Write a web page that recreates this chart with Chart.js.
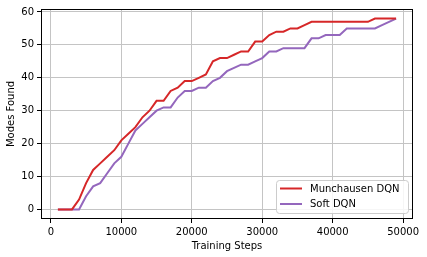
<!DOCTYPE html>
<html>
<head>
<meta charset="utf-8">
<script src="https://cdn.jsdelivr.net/npm/chart.js@4.4.0/dist/chart.umd.min.js"></script>
<style>
  html, body { margin: 0; padding: 0; background: #fff; }
  #wrap { width: 427px; height: 257px; }
</style>
</head>
<body>
<div id="wrap"><canvas id="modes_chart" width="427" height="257"></canvas></div>
<script>
// training steps (x)
var steps = [1000, 2000, 3000, 4000, 5000, 6000, 7000, 8000, 9000, 10000,
    11000, 12000, 13000, 14000, 15000, 16000, 17000, 18000, 19000, 20000,
    21000, 22000, 23000, 24000, 25000, 26000, 27000, 28000, 29000, 30000,
    31000, 32000, 33000, 34000, 35000, 36000, 37000, 38000, 39000, 40000,
    41000, 42000, 43000, 44000, 45000, 46000, 47000, 48000, 49000];
// modes found
var munchausen = [0, 0, 0, 3, 8, 12, 14, 16, 18, 21,
    23, 25, 28, 30, 33, 33, 36, 37, 39, 39,
    40, 41, 45, 46, 46, 47, 48, 48, 51, 51,
    53, 54, 54, 55, 55, 56, 57, 57, 57, 57,
    57, 57, 57, 57, 57, 58, 58, 58, 58];
var softDqn = [0, 0, 0, 0, 4, 7, 8, 11, 14, 16,
    20, 24, 26, 28, 30, 31, 31, 34, 36, 36,
    37, 37, 39, 40, 42, 43, 44, 44, 45, 46,
    48, 48, 49, 49, 49, 49, 52, 52, 53, 53,
    53, 55, 55, 55, 55, 55, 56, 57, 58];
var seriesNames = ["Munchausen DQN", "Soft DQN"];
var xTicks = [0, 10000, 20000, 30000, 40000, 50000];
var yTicks = [0, 10, 20, 30, 40, 50, 60];

var redLine = "#d62728";
var purpleLine = "#9467bd";
var gridColor = "#c4c4c4";

function toPoints(ys) {
    return steps.map(function (s, i) { return {x: s, y: ys[i]}; });
}

// box round the axes + legend in lower right, like matplotlib
var framePlugin = {
    id: "frame",
    afterDatasetsDraw: function (chart) {
        var ctx = chart.ctx, a = chart.chartArea;
        ctx.save();
        ctx.strokeStyle = "#000";
        ctx.lineWidth = 1;
        ctx.strokeRect(a.left + 0.5, a.top + 0.5, a.right - a.left - 1, a.bottom - a.top - 1);

        // legend
        var bx = 276.5, by = 180.5, bw = 132, bh = 33, r = 3;
        ctx.fillStyle = "rgba(255,255,255,0.85)";
        ctx.strokeStyle = "#cccccc";
        ctx.beginPath();
        ctx.moveTo(bx + r, by);
        ctx.arcTo(bx + bw, by, bx + bw, by + bh, r);
        ctx.arcTo(bx + bw, by + bh, bx, by + bh, r);
        ctx.arcTo(bx, by + bh, bx, by, r);
        ctx.arcTo(bx, by, bx + bw, by, r);
        ctx.closePath();
        ctx.fill();
        ctx.stroke();
        ctx.font = "10px 'DejaVu Sans'";
        ctx.textBaseline = "middle";
        chart.data.datasets.forEach(function (ds, i) {
            var yy = 188.5 + i * 15.5;
            ctx.strokeStyle = ds.borderColor;
            ctx.lineWidth = 2;
            ctx.beginPath();
            ctx.moveTo(280, yy);
            ctx.lineTo(302, yy);
            ctx.stroke();
            ctx.fillStyle = "#000";
            ctx.fillText(ds.label, 310, yy + 0.5);
        });
        ctx.restore();
    }
};

Chart.defaults.font.family = "'DejaVu Sans'";
Chart.defaults.font.size = 10;
Chart.defaults.color = "#000";

new Chart(document.getElementById("modes_chart").getContext("2d"), {
    type: "line",
    data: {
        datasets: [
            {label: seriesNames[0], data: toPoints(munchausen), borderColor: redLine, backgroundColor: redLine,
                borderWidth: 2, pointRadius: 0, tension: 0, fill: false},
            {label: seriesNames[1], data: toPoints(softDqn), borderColor: purpleLine, backgroundColor: purpleLine,
                borderWidth: 2, pointRadius: 0, tension: 0, fill: false}
        ]
    },
    options: {
        responsive: false,
        animation: false,
        layout: {padding: {left: 0, top: 8, right: 14, bottom: 0}},
        plugins: {legend: {display: false}, tooltip: {enabled: false}},
        scales: {
            x: {
                type: "linear",
                min: -1400,
                max: 51400,
                afterBuildTicks: function (s) { s.ticks = xTicks.map(function (v) { return {value: v}; }); },
                afterFit: function (s) { s.height = 38; },
                ticks: {padding: 3, maxRotation: 0, callback: function (v) { return String(v); }},
                grid: {color: gridColor, lineWidth: 1, tickColor: "#000", tickLength: 4},
                border: {display: false},
                title: {display: true, text: "Training Steps", padding: {top: 2, bottom: 5}}
            },
            y: {
                type: "linear",
                min: -2.9,
                max: 60.9,
                afterBuildTicks: function (s) { s.ticks = yTicks.map(function (v) { return {value: v}; }); },
                afterFit: function (s) { s.width = 41; },
                ticks: {padding: 3, callback: function (v) { return String(v); }},
                grid: {color: gridColor, lineWidth: 1, tickColor: "#000", tickLength: 4},
                border: {display: false},
                title: {display: true, text: "Modes Found", padding: {top: 5, bottom: 2}}
            }
        }
    },
    plugins: [framePlugin]
});
</script>
</body>
</html>
